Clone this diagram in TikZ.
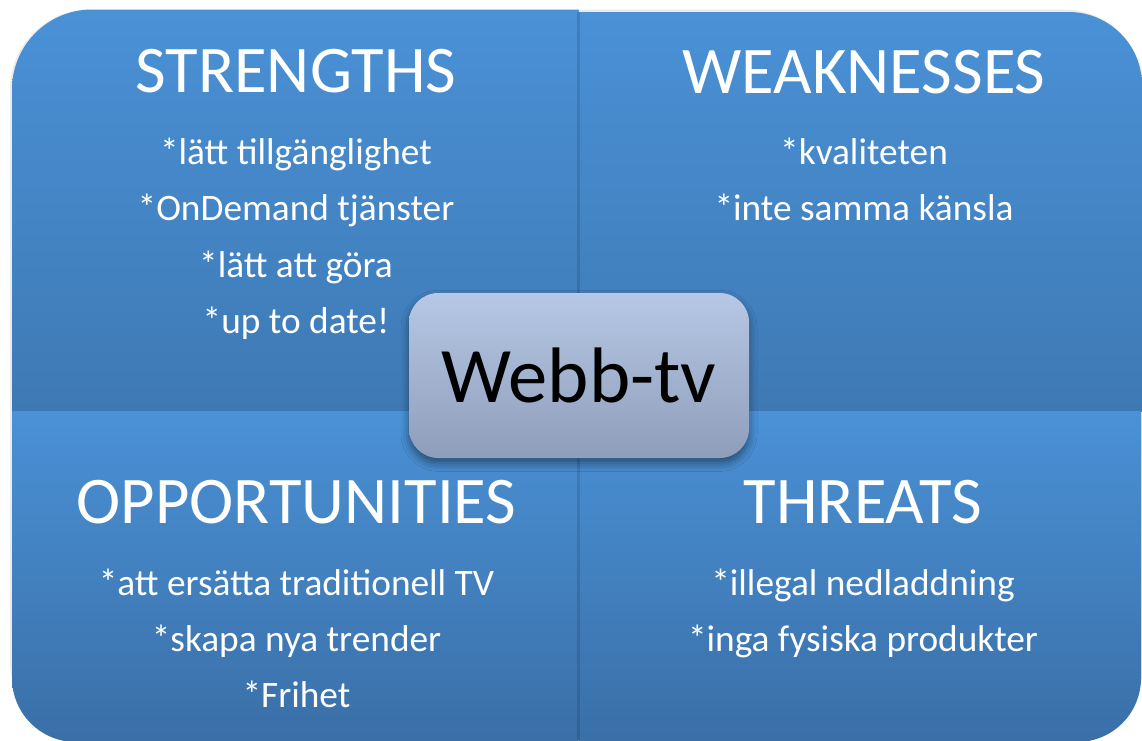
\documentclass[tikz,border=0pt]{standalone}
\usepackage{fontspec}
\setmainfont{Carlito}
\usetikzlibrary{shadows.blur}
\definecolor{qtop}{RGB}{74,145,214}
\definecolor{qmid}{RGB}{62,121,180}
\definecolor{qbot}{RGB}{58,111,167}
\definecolor{ctop}{RGB}{182,200,229}
\definecolor{cbot}{RGB}{142,157,186}
\begin{document}
\begin{tikzpicture}[x=0.75pt,y=-0.75pt,
  title/.style={text=white,font=\fontsize{50}{60}\selectfont,anchor=base,inner sep=0pt},
  item/.style={text=white,font=\fontsize{28}{34}\selectfont,anchor=base,inner sep=0pt}]
\useasboundingbox (0,0) rectangle (1142,740);
% soft edge shadows
\fill[black!20,opacity=0.4,rounded corners=60pt] (10,9.5) rectangle (1144,741);
% quadrants
\begin{scope}
\clip[rounded corners=60pt] (12,9.5) rectangle (900,900);
\shade[top color=qtop,bottom color=qmid] (12,9.5) rectangle (578.5,411.5);
\end{scope}
\begin{scope}
\clip[rounded corners=55pt] (200,12) rectangle (1142,900);
\shade[top color=qtop,bottom color=qmid] (578.5,12) rectangle (1142,411.5);
\end{scope}
\begin{scope}
\clip[rounded corners=48pt] (12,-200) rectangle (900,742);
\shade[top color=qtop,bottom color=qbot] (12,411.5) rectangle (578.5,742);
\end{scope}
\begin{scope}
\clip[rounded corners=48pt] (200,-200) rectangle (1141,742);
\shade[top color=qtop,bottom color=qbot] (578.5,411.5) rectangle (1141,742);
\end{scope}
\fill[black,opacity=0.12] (576.5,12) rectangle (579.5,740);
% texts
\node[title] (st) at (296,92) {STRENGTHS};
\node[item] (s1) at (296,164) {*lätt tillgänglighet};
\node[item] (s2) at (296,220.5) {*OnDemand tjänster};
\node[item] (s3) at (296,277) {*lätt att göra};
\node[item] (s4) at (296,333) {*up to date!};
\node[title] (wt) at (864,93) {WEAKNESSES};
\node[item] (w1) at (864,164) {*kvaliteten};
\node[item] (w2) at (864,220.5) {*inte samma känsla};
\node[title] (ot) at (296.5,523) {OPPORTUNITIES};
\node[item] (o1) at (296.5,595) {*att ersätta traditionell TV};
\node[item] (o2) at (296.5,651) {*skapa nya trender};
\node[item] (o3) at (296.5,707) {*Frihet};
\node[title] (tt) at (863,523) {THREATS};
\node[item] (t1) at (863,595) {*illegal nedladdning};
\node[item] (t2) at (863,651) {*inga fysiska produkter};
% center
\node[rounded corners=22pt, minimum width=255pt, minimum height=123.75pt,
  top color=ctop, bottom color=cbot,
  blur shadow={shadow xshift=0pt,shadow yshift=-4pt,shadow blur radius=6pt,shadow opacity=45}]
  (center) at (579,375.5) {};
\node[anchor=base,inner sep=0pt,font=\fontsize{59}{70}\selectfont] (webb) at (579,402) {Webb-tv};
\end{tikzpicture}
\end{document}
